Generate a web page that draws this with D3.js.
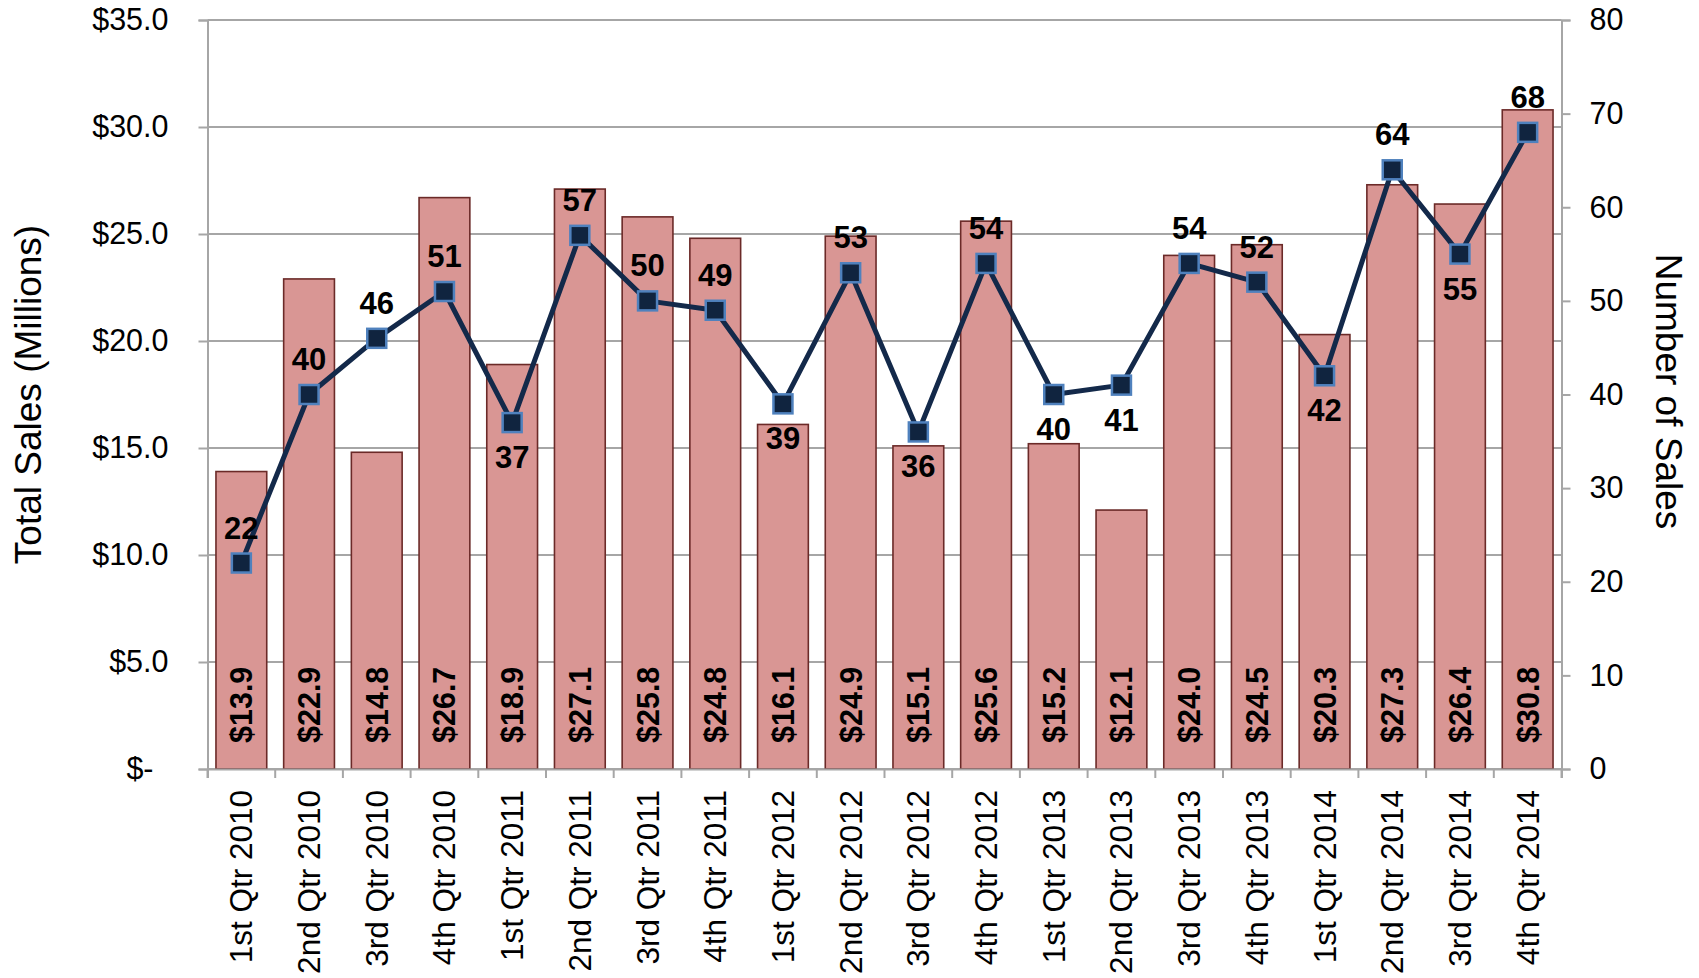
<!DOCTYPE html>
<html>
<head>
<meta charset="utf-8">
<script src="https://cdn.jsdelivr.net/npm/d3@7"></script>
<style>
  html, body { margin: 0; padding: 0; background: #fff; }
  svg { display: block; font-family: Arial, "Liberation Sans", sans-serif; }
</style>
</head>
<body>
<svg id="chart" width="1699" height="978"></svg>
<script>
// ---- data ----
const categories = ["1st Qtr 2010","2nd Qtr 2010","3rd Qtr 2010","4th Qtr 2010",
  "1st Qtr 2011","2nd Qtr 2011","3rd Qtr 2011","4th Qtr 2011",
  "1st Qtr 2012","2nd Qtr 2012","3rd Qtr 2012","4th Qtr 2012",
  "1st Qtr 2013","2nd Qtr 2013","3rd Qtr 2013","4th Qtr 2013",
  "1st Qtr 2014","2nd Qtr 2014","3rd Qtr 2014","4th Qtr 2014"];
const totalSales = [13.9,22.9,14.8,26.7,18.9,27.1,25.8,24.8,16.1,24.9,15.1,25.6,15.2,12.1,24.0,24.5,20.3,27.3,26.4,30.8];
const numberOfSales = [22,40,46,51,37,57,50,49,39,53,36,54,40,41,54,52,42,64,55,68];
const countLabelPos = ["above","above","above","above","below","above","above","above","below","above",
  "below","above","below","below","above","above","below","above","below","above"];
const leftTicks = [0,5,10,15,20,25,30,35];
const rightTicks = [0,10,20,30,40,50,60,70,80];
const leftTitle = "Total Sales (Millions)";
const rightTitle = "Number of Sales";

// ---- layout ----
const svg = d3.select("#chart");
const L = 207.5, R = 1561.5, T = 20, B = 769;
const gridColor = "#A6A6A6";
const FONT = "Arial, 'Liberation Sans', sans-serif";

const x = d3.scaleBand().domain(categories).range([L, R]).paddingInner(0.25).paddingOuter(0.125);
const yL = d3.scaleLinear().domain([0, 35]).range([B, T]);
const yR = d3.scaleLinear().domain([0, 80]).range([B, T]);

// gridlines
svg.append("g").selectAll("line").data(leftTicks).join("line")
  .attr("x1", L).attr("x2", R)
  .attr("y1", d => yL(d)).attr("y2", d => yL(d))
  .attr("stroke", gridColor).attr("stroke-width", 2);

// bars
svg.append("g").selectAll("rect").data(totalSales).join("rect")
  .attr("x", (d, i) => x(categories[i]))
  .attr("width", x.bandwidth())
  .attr("y", d => yL(d))
  .attr("height", d => B - yL(d))
  .attr("fill", "#D99694")
  .attr("stroke", "#6B2A28")
  .attr("stroke-width", 1.6);

// bar labels (rotated, inside base)
svg.append("g").selectAll("text").data(totalSales).join("text")
  .attr("transform", (d, i) => `translate(${x(categories[i]) + x.bandwidth() / 2},${B - 26}) rotate(-90)`)
  .attr("text-anchor", "start")
  .attr("dominant-baseline", "central")
  .attr("font-size", 30.5).attr("font-weight", "bold").attr("fill", "#000")
  .text(d => "$" + d.toFixed(1));

// left axis
const leftAxis = d3.axisLeft(yL).tickValues(leftTicks).tickSize(9).tickPadding(30)
  .tickFormat(d => d === 0 ? "$-" : "$" + d.toFixed(1));
const gL = svg.append("g").attr("transform", `translate(${L},0)`).call(leftAxis);
gL.select(".domain").attr("stroke", gridColor).attr("stroke-width", 2);
gL.selectAll(".tick line").attr("stroke", gridColor).attr("stroke-width", 2);
gL.selectAll(".tick text").attr("font-size", 30.5).attr("font-family", FONT).attr("fill", "#000");
gL.selectAll(".tick text").filter(d => d === 0).attr("dx", -15);

// right axis
const rightAxis = d3.axisRight(yR).tickValues(rightTicks).tickSize(9).tickPadding(19);
const gR = svg.append("g").attr("transform", `translate(${R},0)`).call(rightAxis);
gR.select(".domain").attr("stroke", gridColor).attr("stroke-width", 2);
gR.selectAll(".tick line").attr("stroke", gridColor).attr("stroke-width", 2);
gR.selectAll(".tick text").attr("font-size", 30.5).attr("font-family", FONT).attr("fill", "#000");

// bottom axis
const bottomAxis = d3.axisBottom(x).tickSize(9).tickFormat("");
const gB = svg.append("g").attr("transform", `translate(0,${B})`).call(bottomAxis);
gB.select(".domain").attr("stroke", gridColor).attr("stroke-width", 2);
gB.selectAll(".tick").remove();
const bounds = d3.range(categories.length + 1).map(i => i === categories.length ? R : x(categories[i]) - x.step() * x.paddingInner() / 2);
gB.selectAll("line.bt").data(bounds).join("line").attr("class", "bt")
  .attr("x1", d => d).attr("x2", d => d).attr("y1", 0).attr("y2", 9)
  .attr("stroke", gridColor).attr("stroke-width", 2);
gB.selectAll("text.cat").data(categories).join("text").attr("class", "cat")
  .attr("transform", d => `translate(${x(d) + x.bandwidth() / 2},21) rotate(-90)`)
  .attr("text-anchor", "end").attr("dominant-baseline", "central")
  .attr("font-size", 31.5).attr("font-family", FONT).attr("fill", "#000")
  .text(d => d);

// line
const cx = i => x(categories[i]) + x.bandwidth() / 2;
const line = d3.line().x((d, i) => cx(i)).y(d => yR(d));
svg.append("path").datum(numberOfSales)
  .attr("d", line).attr("fill", "none")
  .attr("stroke", "#13294A").attr("stroke-width", 5).attr("stroke-linejoin", "round");

// markers
const ms = 19;
svg.append("g").selectAll("rect").data(numberOfSales).join("rect")
  .attr("x", (d, i) => cx(i) - ms / 2).attr("y", d => yR(d) - ms / 2)
  .attr("width", ms).attr("height", ms)
  .attr("fill", "#10243F").attr("stroke", "#4F81BD").attr("stroke-width", 2.5);

// point labels
svg.append("g").selectAll("text").data(numberOfSales).join("text")
  .attr("x", (d, i) => cx(i))
  .attr("y", (d, i) => yR(d) + (countLabelPos[i] === "above" ? -35 : 35))
  .attr("text-anchor", "middle").attr("dominant-baseline", "central")
  .attr("font-size", 31).attr("font-weight", "bold").attr("fill", "#000")
  .text(d => d);

// axis titles
svg.append("text")
  .attr("transform", `translate(28,${(T + B) / 2}) rotate(-90)`)
  .attr("text-anchor", "middle").attr("dominant-baseline", "central")
  .attr("font-size", 37).attr("fill", "#000").text(leftTitle);
svg.append("text")
  .attr("transform", `translate(1668,${(T + B) / 2 - 3}) rotate(90)`)
  .attr("text-anchor", "middle").attr("dominant-baseline", "central")
  .attr("font-size", 37).attr("fill", "#000").text(rightTitle);
</script>
</body>
</html>
